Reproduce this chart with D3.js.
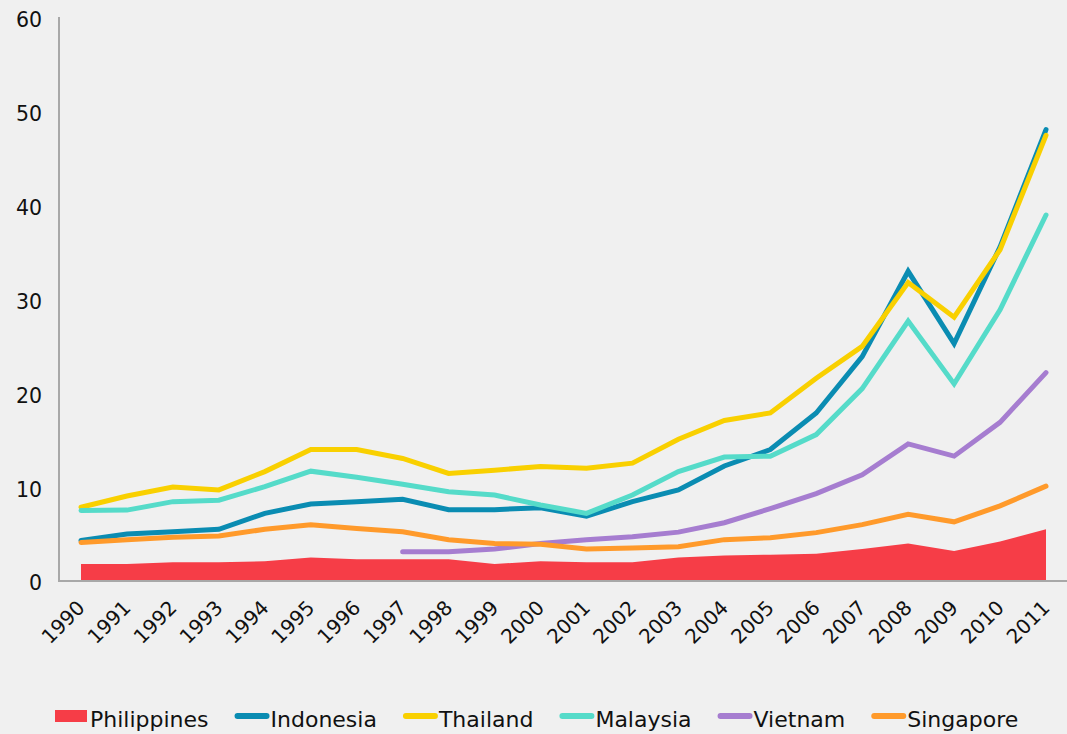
<!DOCTYPE html>
<html>
<head>
<meta charset="utf-8">
<script src="https://cdn.jsdelivr.net/npm/d3@7/dist/d3.min.js"></script>
<style>
  html, body { margin: 0; padding: 0; background: #f0f0f0; }
  svg { display: block; }
  text { font-family: "DejaVu Sans", "Open Sans", sans-serif; fill: #111; }
</style>
</head>
<body>
<svg id="chart" width="1067" height="734"></svg>
<script>
const years = [1990,1991,1992,1993,1994,1995,1996,1997,1998,1999,2000,2001,2002,2003,2004,2005,2006,2007,2008,2009,2010,2011];
const yTicks = [0,10,20,30,40,50,60];

const philippines = [1.7,1.7,1.9,1.9,2.0,2.4,2.2,2.2,2.2,1.7,2.0,1.9,1.9,2.4,2.6,2.7,2.8,3.3,3.9,3.1,4.1,5.4];
const indonesia   = [4.2,4.9,5.15,5.4,7.1,8.1,8.35,8.6,7.5,7.5,7.7,6.8,8.35,9.6,12.15,13.9,17.8,23.8,32.9,25.2,35.5,48.0];
const thailand    = [7.75,8.95,9.9,9.6,11.55,13.9,13.9,12.95,11.35,11.7,12.1,11.9,12.45,15.0,17.0,17.8,21.5,24.9,31.7,28.0,35.2,47.4];
const malaysia    = [7.4,7.45,8.35,8.5,9.95,11.6,10.95,10.2,9.4,9.05,8.0,7.1,9.05,11.55,13.1,13.2,15.5,20.4,27.6,20.9,28.8,38.9];
const vietnam     = [null,null,null,null,null,null,null,3.0,3.0,3.3,3.9,4.3,4.6,5.1,6.1,7.6,9.2,11.2,14.5,13.2,16.8,22.1];
const singapore   = [4.0,4.3,4.55,4.7,5.4,5.9,5.5,5.15,4.3,3.9,3.8,3.3,3.4,3.55,4.3,4.5,5.05,5.9,7.0,6.2,7.9,10.0];

const seriesNames = ["Philippines","Indonesia","Thailand","Malaysia","Vietnam","Singapore"];
const colors = ["#f63d47","#0a8cb2","#f9d000","#55dbc9","#a67dd0","#ff9a2b"];
const lineSeries = [indonesia, thailand, malaysia, vietnam, singapore];

const svg = d3.select("#chart");
svg.append("rect").attr("width",1067).attr("height",734).attr("fill","#f0f0f0");

const x = d3.scaleLinear().domain([1990, 2011]).range([81, 1046]);
const y = d3.scaleLinear().domain([0, 60]).range([580, 17]);

// Philippines area
const area = d3.area()
  .x((d,i) => x(years[i]))
  .y0(y(0))
  .y1(d => y(d));
svg.append("path")
  .datum(philippines)
  .attr("d", area)
  .attr("fill", colors[0]);

// Lines
const line = d3.line()
  .defined(d => d !== null)
  .x((d,i) => x(years[i]))
  .y(d => y(d));
lineSeries.forEach((s, k) => {
  svg.append("path")
    .datum(s)
    .attr("d", line)
    .attr("fill", "none")
    .attr("stroke", colors[k+1])
    .attr("stroke-width", 5)
    .attr("stroke-linecap", "round")
    .attr("stroke-linejoin", "miter");
});

// Axes lines
svg.append("line").attr("x1",59).attr("x2",59).attr("y1",17).attr("y2",y(0)+1)
  .attr("stroke","#a8a8a8").attr("stroke-width",2);
svg.append("line").attr("x1",58).attr("x2",1067).attr("y1",y(0)+1).attr("y2",y(0)+1)
  .attr("stroke","#a8a8a8").attr("stroke-width",2);

// Y tick labels
svg.append("g").selectAll("text").data(yTicks).join("text")
  .attr("x", 42)
  .attr("y", d => y(d) + 3)
  .attr("dy", "0.36em")
  .attr("text-anchor", "end")
  .attr("font-size", 20.5)
  .text(d => d);

// X tick labels
svg.append("g").selectAll("text").data(years).join("text")
  .attr("text-anchor", "middle")
  .attr("dy", "0.36em")
  .attr("font-size", 20)
  .attr("transform", d => `translate(${x(d)-18},${622}) rotate(-45)`)
  .text(d => d);

// Legend
const legend = svg.append("g");
let lx = 54;
const ly = 716;
seriesNames.forEach((name, i) => {
  if (i === 0) {
    legend.append("rect").attr("x", lx+1).attr("y", 710).attr("width", 32).attr("height", 12).attr("fill", colors[i]);
  } else {
    legend.append("line").attr("x1", lx+3).attr("x2", lx+32).attr("y1", ly).attr("y2", ly)
      .attr("stroke", colors[i]).attr("stroke-width", 6).attr("stroke-linecap","round");
  }
  const t = legend.append("text")
    .attr("x", lx+36)
    .attr("y", 727)
    .attr("font-size", 22)
    .text(name);
  lx = lx + 36 + t.node().getComputedTextLength() + 26;
});
</script>
</body>
</html>
